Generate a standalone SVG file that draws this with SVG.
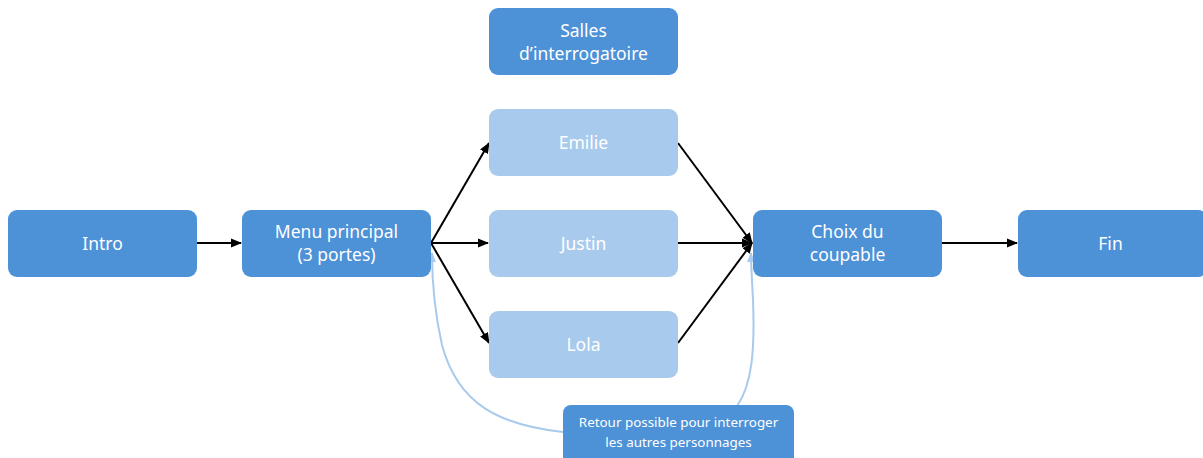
<svg xmlns="http://www.w3.org/2000/svg" width="1203" height="458" viewBox="0 0 1203 458">
<style>
.n{fill:#4d91d7}
.l{fill:#a8caec}
text{font-family:"Noto Sans","Open Sans",sans-serif;font-size:17.5px;fill:#fff;text-anchor:middle}
.s{font-size:13.4px}
.c{fill:none;stroke:#000;stroke-width:2}
.b{fill:none;stroke:#a8caec;stroke-width:2}
</style>
<defs>
<marker id="a" markerWidth="11" markerHeight="11" refX="10" refY="5.5" orient="auto" markerUnits="userSpaceOnUse"><path d="M0,1 L11,5.5 L0,10 z" fill="#000"/></marker>
<marker id="al" markerWidth="10" markerHeight="10" refX="9" refY="5" orient="auto" markerUnits="userSpaceOnUse"><path d="M0,1 L10,5 L0,9 z" fill="#a8caec"/></marker>
</defs>
<g id="connectors">
<path class="b" d="M563,432 C500,425 458,405 442,345 C433,305 432,272 432,253" marker-end="url(#al)"/>
<path class="b" d="M737,406 C752,385 755,350 753,300 C752,280 751,265 751,253" marker-end="url(#al)"/>
<line class="c" x1="197" y1="243" x2="241" y2="243" marker-end="url(#a)"/>
<line class="c" x1="431" y1="243" x2="489" y2="143" marker-end="url(#a)"/>
<line class="c" x1="431" y1="243" x2="488" y2="243" marker-end="url(#a)"/>
<line class="c" x1="431" y1="243" x2="489" y2="343" marker-end="url(#a)"/>
<line class="c" x1="678" y1="143" x2="752" y2="243" marker-end="url(#a)"/>
<line class="c" x1="678" y1="243" x2="752" y2="243" marker-end="url(#a)"/>
<line class="c" x1="678" y1="343" x2="752" y2="243" marker-end="url(#a)"/>
<line class="c" x1="942" y1="243" x2="1017" y2="243" marker-end="url(#a)"/>
</g>
<g id="salles"><rect class="n" x="489" y="8" width="189" height="67" rx="9"/><text x="583.5" y="37">Salles</text><text x="583.5" y="60">d’interrogatoire</text></g>
<g id="intro"><rect class="n" x="8" y="210" width="189" height="67" rx="9"/><text x="102.5" y="249.5">Intro</text></g>
<g id="menu"><rect class="n" x="242" y="210" width="189" height="67" rx="9"/><text x="336.5" y="238">Menu principal</text><text x="336.5" y="261">(3 portes)</text></g>
<g id="emilie"><rect class="l" x="489" y="109" width="189" height="67" rx="9"/><text x="583.5" y="148.5">Emilie</text></g>
<g id="justin"><rect class="l" x="489" y="210" width="189" height="67" rx="9"/><text x="583.5" y="249.5">Justin</text></g>
<g id="lola"><rect class="l" x="489" y="311" width="189" height="67" rx="9"/><text x="583.5" y="350.5">Lola</text></g>
<g id="choix"><rect class="n" x="753" y="210" width="189" height="67" rx="9"/><text x="847.5" y="238">Choix du</text><text x="847.5" y="261">coupable</text></g>
<g id="fin"><rect class="n" x="1018" y="210" width="189" height="67" rx="9"/><text x="1110.5" y="249.5">Fin</text></g>
<g id="retour"><rect class="n" x="563" y="405" width="231" height="67" rx="8"/><text class="s" x="678.5" y="427">Retour possible pour interroger</text><text class="s" x="678.5" y="447">les autres personnages</text></g>
</svg>
